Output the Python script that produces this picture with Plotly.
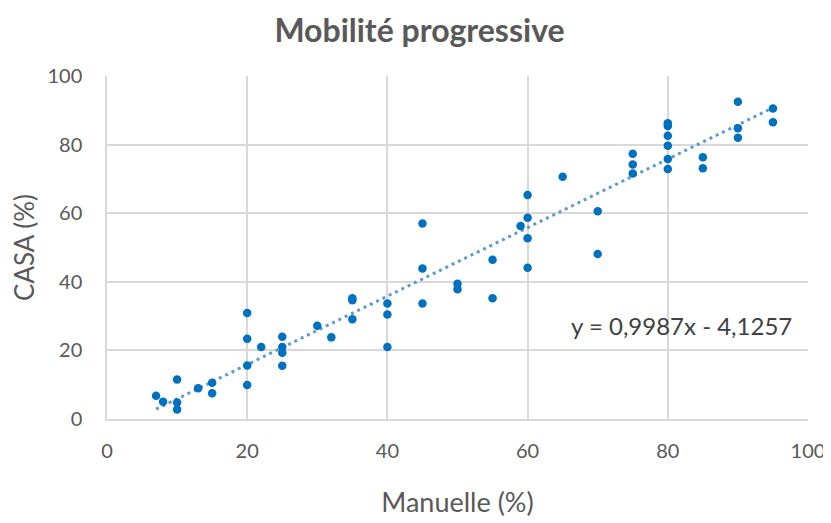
import plotly.graph_objects as go

manuelle = [7, 8, 10, 10, 10, 13, 15, 15, 20, 20, 20, 20, 22, 25, 25, 25, 25,
            30, 32, 35, 35, 35, 40, 40, 40, 45, 45, 45, 50, 50, 55, 55, 59,
            60, 60, 60, 60, 65, 70, 70, 75, 75, 75, 80, 80, 80, 80, 80, 80,
            85, 85, 90, 90, 90, 95, 95]
casa = [6.8, 5.0, 11.5, 4.8, 2.8, 9.0, 10.6, 7.5, 30.9, 23.4, 15.6, 9.9, 21.0, 24.0, 21.0, 19.3, 15.5,
        27.2, 23.8, 35.2, 34.6, 29.1, 33.7, 30.5, 21.0, 57.0, 43.9, 33.7, 39.4, 37.8, 46.4, 35.2, 56.3,
        65.3, 58.7, 52.7, 44.1, 70.6, 60.6, 48.1, 77.3, 74.2, 71.6, 86.2, 85.4, 82.6, 79.7, 75.8, 72.9,
        76.3, 73.1, 92.5, 84.8, 82.0, 90.5, 86.5]

slope = 0.9987
intercept = -4.1257
trend_x = [min(manuelle), max(manuelle)]
trend_y = [slope * v + intercept for v in trend_x]

title_text = "Mobilité progressive"
x_title = "Manuelle (%)"
y_title = "CASA (%)"
eq_text = "y = 0,9987x - 4,1257"

fig = go.Figure()
fig.add_trace(go.Scatter(x=trend_x, y=trend_y, mode="lines",
                         line=dict(color="#5B9BD5", width=3, dash="3px,4px"),
                         showlegend=False, hoverinfo="skip"))
fig.add_trace(go.Scatter(x=manuelle, y=casa, mode="markers",
                         marker=dict(color="#0070C0", size=8.5),
                         showlegend=False))

# the page body has an 8px default margin, so the figure is sized to fit the window
font_family = "Lato, 'Open Sans', sans-serif"
fig.update_layout(
    width=823, height=515,
    margin=dict(l=99, r=23, t=68, b=104, autoexpand=False),
    paper_bgcolor="white", plot_bgcolor="white",
    font=dict(family=font_family, color="#595959"),
    title=dict(text="<b>" + title_text + "</b>", x=0.5, xanchor="center",
               y=0.956, yanchor="middle", automargin=False,
               font=dict(size=32, color="#595959", family=font_family)),
    xaxis=dict(range=[0, 100], dtick=20, tick0=0, automargin=False,
               showgrid=True, gridcolor="#D9D9D9", gridwidth=1.5,
               zeroline=False, showline=True, linecolor="#D9D9D9", linewidth=1.5,
               ticks="", tickfont=dict(size=20, color="#595959"),
               ticklabelstandoff=13,
               title=dict(text=x_title, font=dict(size=27, color="#595959"), standoff=32)),
    yaxis=dict(range=[0, 100], dtick=20, tick0=0, automargin=False,
               showgrid=True, gridcolor="#D9D9D9", gridwidth=1.5,
               zeroline=False, showline=True, linecolor="#D9D9D9", linewidth=1.5,
               ticks="", tickfont=dict(size=20, color="#595959"),
               ticklabelstandoff=19,
               title=dict(text=y_title, font=dict(size=26, color="#595959"), standoff=7)),
    annotations=[dict(text=eq_text, x=82, y=27.4, xref="x", yref="y",
                      showarrow=False, font=dict(size=24, color="#404040", family=font_family))],
)

fig.write_html("out.html")
